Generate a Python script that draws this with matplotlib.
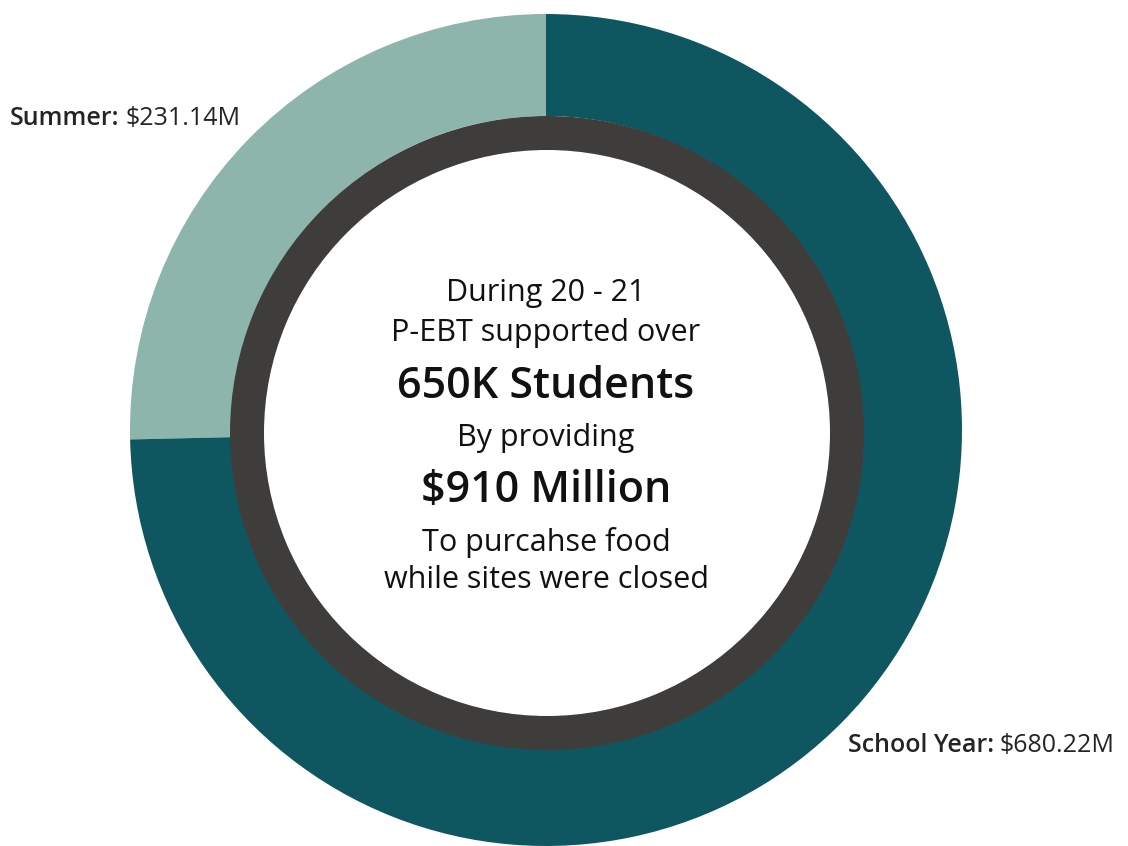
import matplotlib
matplotlib.use("Agg")
import matplotlib.pyplot as plt
from matplotlib.patches import Wedge

plt.rcParams['font.family'] = ['Open Sans', 'DejaVu Sans']

# P-EBT spend by period, $M
segments = ["Summer", "School Year"]
amounts = [231.14, 680.22]
amount_labels = ["$231.14M", "$680.22M"]
colors = ["#8db5ab", "#0f5760"]

center_lines = [
    ("During 20 - 21", "normal"),
    ("P-EBT supported over", "normal"),
    ("650K Students", "big"),
    ("By providing", "normal"),
    ("$910 Million", "big"),
    ("To purcahse food", "normal"),
    ("while sites were closed", "normal"),
]
line_y = [293, 333, 386, 438, 490, 542, 580]

W, H = 1128, 846
fig = plt.figure(figsize=(W / 100, H / 100), dpi=100)
ax = fig.add_axes([0, 0, 1, 1])

cx, cy, r_out, r_in = 546, H - 430, 416, 314
ax.pie(amounts, colors=colors, startangle=90, counterclock=True,
       center=(cx, cy), radius=r_out,
       wedgeprops=dict(width=r_out - r_in, linewidth=0))

# dark inner ring
ax.add_patch(Wedge((547, H - 433), 317, 0, 360, width=34,
                   facecolor="#3f3d3c", edgecolor="none"))

ax.set_xlim(0, W)
ax.set_ylim(0, H)
ax.set_aspect("equal")
ax.axis("off")

txt = "#252423"
for (s, kind), y in zip(center_lines, line_y):
    if kind == "big":
        ax.text(cx, H - y, s, ha="center", va="center", fontsize=31,
                fontweight="semibold", color="#111111")
    else:
        ax.text(cx, H - y, s, ha="center", va="center", fontsize=22,
                color="#111111")

# outside labels: semibold name then value
label_pos = [(10, 118), (848, 745)]
for name, val, (x, y) in zip(segments, amount_labels, label_pos):
    t = ax.text(x, H - y, name + ":", ha="left", va="center", fontsize=18,
                fontweight="semibold", color=txt)
    ax.annotate(val, xy=(1, 0.5), xycoords=t, xytext=(4, 0),
                textcoords="offset points", ha="left", va="center",
                fontsize=18, color=txt)

fig.savefig("out.png", dpi=100, facecolor="white")
